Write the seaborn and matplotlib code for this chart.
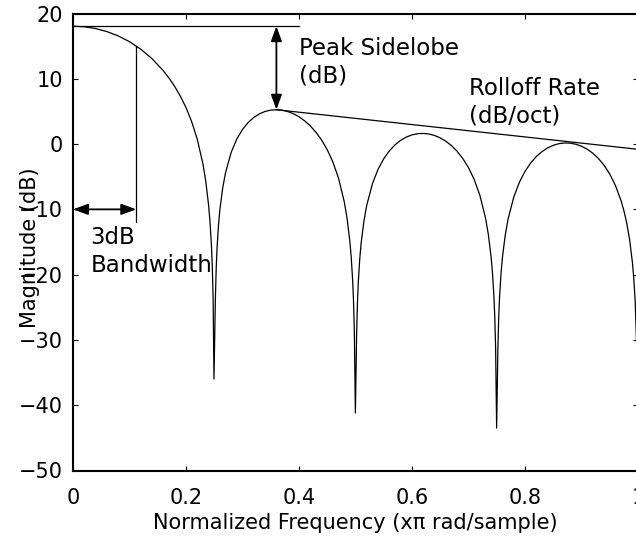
import matplotlib
matplotlib.use("Agg")
import matplotlib.pyplot as plt
import seaborn as sns
import pandas as pd

# Digitized magnitude response (normalized frequency in units of pi, magnitude in dB)
freq = [0, 0.02, 0.04, 0.06, 0.08, 0.10, 0.12, 0.14, 0.16, 0.17, 0.18, 0.19, 0.20, 0.21,
        0.22, 0.23, 0.235, 0.24, 0.2425, 0.245, 0.2465, 0.248, 0.2495,
        0.252, 0.2535, 0.255, 0.2575, 0.26, 0.265, 0.27, 0.28, 0.29, 0.30, 0.31, 0.32,
        0.33, 0.34, 0.35, 0.36, 0.37, 0.38, 0.39, 0.40, 0.41, 0.42, 0.43, 0.44, 0.45,
        0.46, 0.47, 0.48, 0.485, 0.49, 0.4925, 0.495, 0.4965, 0.498, 0.4998,
        0.502, 0.5035, 0.505, 0.5075, 0.51, 0.515, 0.52, 0.53, 0.54, 0.55, 0.56, 0.57,
        0.58, 0.59, 0.60, 0.61, 0.62, 0.63, 0.64, 0.65, 0.66, 0.67, 0.68, 0.69, 0.70,
        0.71, 0.72, 0.73, 0.735, 0.74, 0.7425, 0.745, 0.7465, 0.748, 0.7498,
        0.752, 0.7535, 0.755, 0.7575, 0.76, 0.765, 0.77, 0.78, 0.79, 0.80, 0.81, 0.82,
        0.83, 0.84, 0.85, 0.86, 0.87, 0.88, 0.89, 0.90, 0.91, 0.92, 0.93, 0.94, 0.95,
        0.96, 0.97, 0.975, 0.98, 0.985, 0.99, 0.9925, 0.995, 0.998, 1.0]
magnitude_db = [18.06, 17.97, 17.70, 17.23, 16.57, 15.68, 14.53, 13.07, 11.22, 10.10, 8.82,
                7.34, 5.59, 3.45, 0.72, -3.05, -5.69, -9.36, -11.93, -15.53, -18.68,
                -23.59, -36.0,
                -23.72, -18.91, -15.86, -12.43, -10.02, -6.68, -4.38, -1.26, 0.79, 2.24,
                3.30, 4.08, 4.63, 5.00, 5.20, 5.26, 5.19, 4.99, 4.65, 4.18, 3.56, 2.78,
                1.81, 0.62, -0.87, -2.75, -5.24, -8.79, -11.33, -14.89, -17.41, -20.96,
                -24.08, -28.96, -41.2,
                -29.01, -24.17, -21.10, -17.62, -15.16, -11.73, -9.34, -6.06, -3.85, -2.24,
                -1.03, -0.11, 0.58, 1.07, 1.41, 1.59, 1.63, 1.54, 1.31, 0.95, 0.43, -0.25,
                -1.12, -2.22, -3.61, -5.41, -7.81, -11.28, -13.77, -17.29, -19.80, -23.33,
                -26.43, -31.30, -43.5,
                -31.32, -26.47, -23.38, -19.88, -17.41, -13.94, -11.51, -8.15, -5.86,
                -4.18, -2.90, -1.91, -1.16, -0.59, -0.19, 0.06, 0.17, 0.14, -0.03, -0.33,
                -0.78, -1.40, -2.21, -3.25, -4.59, -6.33, -8.67, -10.19, -12.08, -14.54,
                -18.04, -20.53, -24.04, -32.0, -50.0]

xticks = [0, 0.2, 0.4, 0.6, 0.8, 1.0]
xtick_labels = ['0', '0.2', '0.4', '0.6', '0.8', '1']
yticks = [-50, -40, -30, -20, -10, 0, 10, 20]

# Annotation reference values
mainlobe_peak_db = 18.06
peak_line_end = 0.4
sidelobe_freq = 0.36
sidelobe_peak_db = 5.26
rolloff_end_freq = 1.0
rolloff_end_db = -0.8
bw_freq = 0.112
bw_level_db = 15.06
bw_line_bottom_db = -12.0
bw_arrow_db = -10.0

sns.set_theme(style='ticks')
plt.rcParams['font.family'] = ['DejaVu Sans']

fig = plt.figure(figsize=(6.36, 5.39), dpi=100)
ax = fig.add_axes([73 / 636, 1 - 470.5 / 539, 565 / 636, 457 / 539])

df = pd.DataFrame({'freq': freq, 'mag': magnitude_db})
sns.lineplot(data=df, x='freq', y='mag', sort=False, estimator=None,
             color='black', linewidth=0.9, ax=ax)

ax.set_xlim(0, 1)
ax.set_ylim(-50, 20)
ax.set_xticks(xticks)
ax.set_xticklabels(xtick_labels)
ax.set_yticks(yticks)
ax.tick_params(direction='in', top=True, right=True, length=3.6, width=0.8,
               labelsize=15, colors='black')
ax.tick_params(axis='x', pad=12.4)
ax.tick_params(axis='y', pad=7)
for s in ax.spines.values():
    s.set_visible(True)
    s.set_linewidth(1.5)
    s.set_color('black')

ax.set_xlabel('Normalized Frequency (xπ rad/sample)', fontsize=15, color='black')
ax.set_ylabel('Magnitude (dB)', fontsize=15, color='black')
ax.xaxis.set_label_coords(0.5, -0.0923)
ax.yaxis.set_label_coords(-0.058, 0.488)

lw = 0.9
ax.plot([0, peak_line_end], [mainlobe_peak_db, mainlobe_peak_db], color='black', lw=lw)
ax.plot([sidelobe_freq, rolloff_end_freq], [sidelobe_peak_db, rolloff_end_db], color='black', lw=lw)
ax.plot([bw_freq, bw_freq], [bw_level_db, bw_line_bottom_db], color='black', lw=lw)

arrow = dict(arrowstyle='<|-|>,head_length=0.6,head_width=0.22', mutation_scale=15,
             lw=1.3, color='black', shrinkA=0, shrinkB=0)
ax.annotate('', xy=(sidelobe_freq, sidelobe_peak_db),
            xytext=(sidelobe_freq, mainlobe_peak_db), arrowprops=arrow)
ax.annotate('', xy=(0, bw_arrow_db), xytext=(bw_freq, bw_arrow_db), arrowprops=arrow)

tkw = dict(fontsize=16.5, va='top', ha='left', linespacing=1.27, color='black')
ax.text(0.400, 16.45, 'Peak Sidelobe\n(dB)', **tkw)
ax.text(0.701, 10.34, 'Rolloff Rate\n(dB/oct)', **tkw)
ax.text(0.031, -12.54, '3dB\nBandwidth', **tkw)

fig.savefig('out.png', dpi=100)
